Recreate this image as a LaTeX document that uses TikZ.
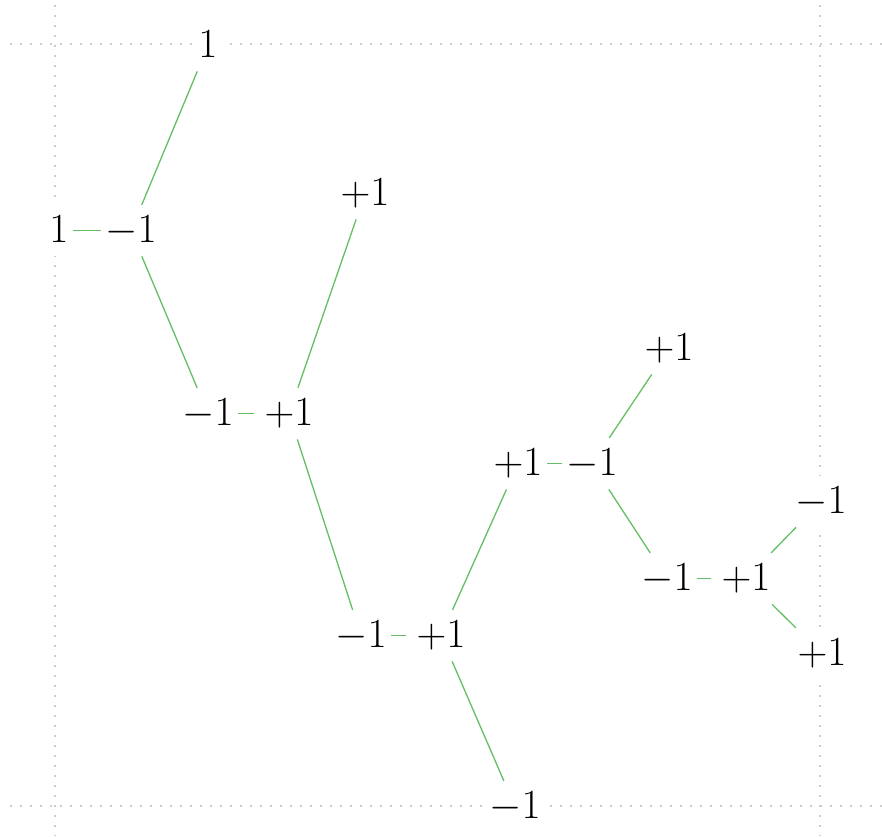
\documentclass[tikz,border=0pt]{standalone}
\usetikzlibrary{positioning}
\definecolor{lgreen}{RGB}{100,190,100}
\definecolor{gridgray}{RGB}{205,205,205}

\begin{document}
\begin{tikzpicture}[x=0.5pt, y=-0.5pt,
    num/.style={fill=white, inner xsep=2pt, inner ysep=5pt, text depth=2pt,
                anchor=base, font=\fontsize{21.5}{26}\selectfont},
    link/.style={draw=lgreen, line width=0.65pt},
    guide/.style={draw=gridgray, line width=1pt, dash pattern=on 1pt off 4pt}
]
\useasboundingbox (0,0) rectangle (882,836);

% Guides
\draw[guide] (10,44) -- (882,44);
\draw[guide] (10,806) -- (882,806);
\draw[guide] (55,5) -- (55,836);
\draw[guide] (820,5) -- (820,836);

% Values
\node[num] (r) at (208,57) {$1$};
\node[num] (l0) at (59,242) {$1$};
\node[num] (n1) at (131,242) {$-1$};
\node[num] (m2) at (208,425) {$-1$};
\node[num] (p2) at (289,425) {$+1$};
\node[num] (p3t) at (365,205) {$+1$};
\node[num] (m4) at (361,647) {$-1$};
\node[num] (p4) at (441,647) {$+1$};
\node[num] (m5b) at (515,818) {$-1$};
\node[num] (p5) at (518,475) {$+1$};
\node[num] (m5) at (592,475) {$-1$};
\node[num] (p6t) at (669,360) {$+1$};
\node[num] (m6) at (667,590) {$-1$};
\node[num] (p6) at (746,590) {$+1$};
\node[num] (m7t) at (821,513) {$-1$};
\node[num] (p7b) at (822,665) {$+1$};

% Links
\foreach \a/\b in {r/n1, n1/m2, p2/p3t, p2/m4, p4/p5, p4/m5b,
                   m5/p6t, m5/m6, p6/m7t, p6/p7b} {
  \draw[link] (\a) -- (\b);
}
\draw[link] (l0) -- (n1);
\draw[link] (p5) -- (m5);
\foreach \a/\b in {m2/p2, m4/p4, m6/p6} {
  \draw[link, shorten >=3pt] (\a) -- (\b);
}

\end{tikzpicture}
\end{document}
